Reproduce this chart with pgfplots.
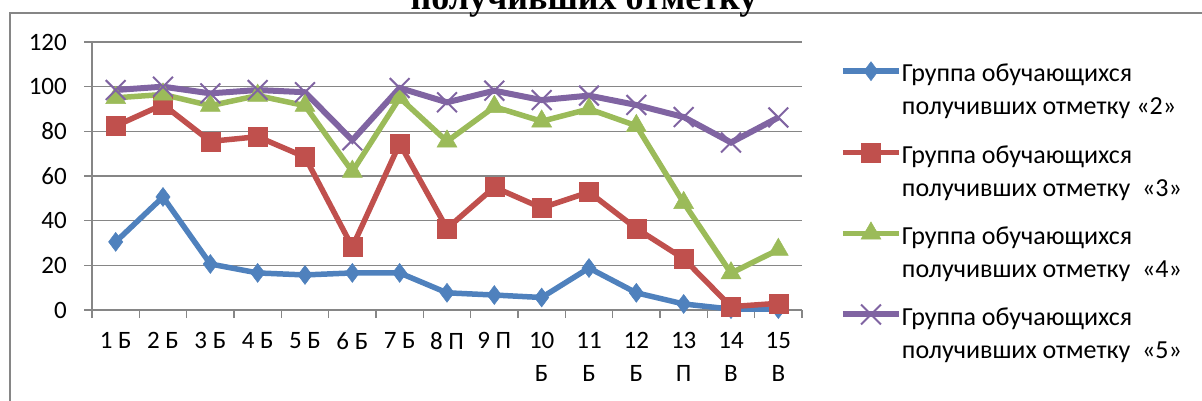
\documentclass[border=0pt]{standalone}
\usepackage{fontspec}
\setmainfont{Carlito}
\newfontfamily\titlefont{Liberation Serif}
\usepackage{pgfplots}
\pgfplotsset{compat=1.18}

\definecolor{cblue}{HTML}{4F81BD}
\definecolor{cred}{HTML}{C0504D}
\definecolor{cgreen}{HTML}{9BBB59}
\definecolor{cpurple}{HTML}{8064A2}
\definecolor{gridc}{HTML}{868686}

\newcommand{\lentry}[1]{\begin{tabular}[t]{@{}l@{}}Группа обучающихся\\получивших отметку#1\end{tabular}}

\begin{document}
\begin{tikzpicture}
% chart area frame (cropped at right and bottom)
\draw[gridc, line width=1.5pt] (10pt,-420pt) -- (10pt,-13pt) -- (1230pt,-13pt);
% title, upper line outside the picture
\node[anchor=base, inner sep=0pt, font=\titlefont\bfseries\fontsize{36}{40}\selectfont]
  at (584pt,-10pt) {получивших отметку};
\begin{axis}[
  at={(92pt,-310pt)}, anchor=south west,
  scale only axis, width=710pt, height=268pt,
  xmin=0.5, xmax=15.5, ymin=0, ymax=120,
  axis x line*=bottom, axis y line*=left,
  axis line style={draw=gridc, line width=1.5pt, -},
  ytick={0,20,...,120},
  ymajorgrids, grid style={draw=gridc, line width=1.5pt},
  xtick={1,...,15},
  xticklabels={1 Б,2 Б,3 Б,4 Б,5 Б,6 Б,7 Б,8 П,9 П,{10\\Б},{11\\Б},{12\\Б},{13\\П},{14\\В},{15\\В}},
  minor xtick={0.5,1.5,...,15.5},
  tick align=outside,
  x tick style={draw=none},
  minor x tick style={draw=gridc, line width=1.5pt},
  y tick style={draw=gridc, line width=1.5pt},
  major tick length=8pt, minor tick length=8pt,
  /pgf/number format/assume math mode=true,
  ticklabel style={font=\fontsize{25}{33}\selectfont, inner sep=0pt, text=black},
  xticklabel style={align=center, yshift=-14pt},
  yticklabel style={xshift=-17pt},
  clip=false,
  legend style={at={(axis description cs:1.0535,0.937)}, anchor=north west,
    draw=none, fill=none, inner sep=0pt, outer sep=0pt,
    font=\fontsize{26}{33}\selectfont, row sep=56.5pt,
    nodes={inner sep=0pt}},
  legend cell align=left,
  legend image code/.code={\draw[mark repeat=2, mark phase=2] plot coordinates {(0pt,0pt)(28pt,0pt)(56pt,0pt)};},
]
\addplot[cblue, line width=5.5pt, mark=diamond*, mark size=9.5pt, mark options={solid, fill=cblue, line width=0.5pt}]
  coordinates {(1,30.5)(2,50.6)(3,20.6)(4,16.6)(5,15.7)(6,16.6)(7,16.6)(8,7.7)(9,6.7)(10,5.6)(11,18.8)(12,7.7)(13,2.7)(14,0.4)(15,0.4)};
\addlegendentry{\lentry{ «2»}}
\addplot[cred, line width=5.5pt, mark=square*, mark size=9.5pt, mark options={solid, fill=cred, line width=0.5pt}]
  coordinates {(1,82.4)(2,92)(3,75.5)(4,77.6)(5,68.5)(6,28.2)(7,74.5)(8,36.5)(9,55)(10,45.7)(11,52.8)(12,36.5)(13,23)(14,1.5)(15,3)};
\addlegendentry{\lentry{\ \ «3»}}
\addplot[cgreen, line width=5.5pt, mark=triangle*, mark size=11.5pt, mark options={solid, fill=cgreen, line width=0.5pt}]
  coordinates {(1,95)(2,96.5)(3,91.5)(4,96)(5,91.5)(6,62)(7,95)(8,75.5)(9,91)(10,84.5)(11,90)(12,82.5)(13,48)(14,16.5)(15,27)};
\addlegendentry{\lentry{\ \ «4»}}
\addplot[cpurple, line width=6pt, mark=x, mark size=14pt, mark options={solid, line width=2pt}]
  coordinates {(1,98.5)(2,100)(3,97)(4,98.5)(5,97.5)(6,76)(7,99.4)(8,93)(9,98.2)(10,94)(11,96)(12,91.8)(13,86.4)(14,75)(15,86.2)};
\addlegendentry{\lentry{\ \ «5»}}
\end{axis}
\pgfresetboundingbox
\path[use as bounding box] (0pt,0pt) rectangle (1202pt,-401pt);
\end{tikzpicture}
\end{document}
